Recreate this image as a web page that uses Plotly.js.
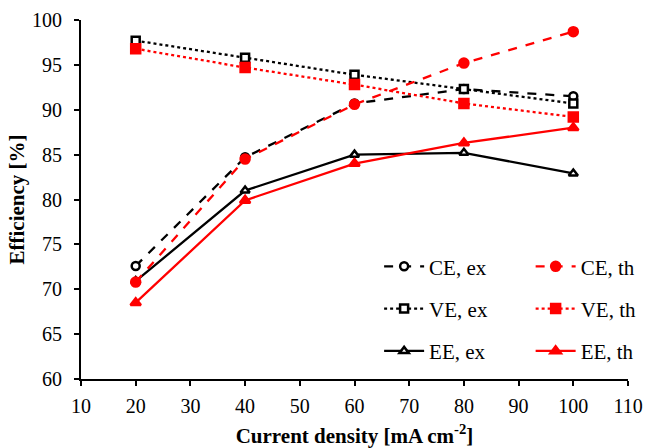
<!DOCTYPE html>
<html><head><meta charset="utf-8">
<script src="https://cdn.plot.ly/plotly-3.0.1.min.js"></script>
<style>html,body{margin:0;padding:0;background:#fff}#chart{width:647px;height:448px}</style>
</head><body><div id="chart"></div>
<script>
const currentDensity = [20, 40, 60, 80, 100];
const ceEx = [72.6, 84.7, 90.7, 92.3, 91.5];
const ceTh = [70.8, 84.5, 90.6, 95.2, 98.7];
const veEx = [97.7, 95.8, 93.9, 92.3, 90.7];
const veTh = [96.8, 94.7, 92.8, 90.7, 89.2];
const eeEx = [70.9, 81.0, 85.0, 85.2, 82.9];
const eeTh = [68.5, 79.9, 84.0, 86.3, 88.0];

const FONT = "'Liberation Serif', 'Times New Roman', serif";
function tr(name, y, color, dash, symbol, fill, size, legend) {
  return {
    x: currentDensity, y: y, name: name, type: 'scatter', mode: 'lines+markers',
    line: {color: color, width: 2.3, dash: dash},
    marker: {symbol: symbol, size: size, color: fill, line: {color: color, width: 2.5}},
    legend: legend, legendgroup: name
  };
}
const data = [
  tr('CE, ex', ceEx, '#000', 'dash', 'circle', '#fff', 8, 'legend'),
  tr('VE, ex', veEx, '#000', 'dot', 'square', '#fff', 8, 'legend'),
  tr('EE, ex', eeEx, '#000', 'solid', 'triangle-up', '#fff', 8, 'legend'),
  tr('CE, th', ceTh, '#ff0000', 'dash', 'circle', '#ff0000', 9, 'legend2'),
  tr('VE, th', veTh, '#ff0000', 'dot', 'square', '#ff0000', 9, 'legend2'),
  tr('EE, th', eeTh, '#ff0000', 'solid', 'triangle-up', '#ff0000', 9, 'legend2')
];
const legendCommon = {
  font: {family: FONT, size: 21, color: '#000'}, bgcolor: 'rgba(0,0,0,0)',
  tracegroupgap: 12, xanchor: 'left', yanchor: 'top', itemwidth: 40
};
const layout = {
  width: 647, height: 448,
  margin: {l: 81, r: 19, t: 20, b: 69, autoexpand: false},
  paper_bgcolor: '#fff', plot_bgcolor: '#fff',
  font: {family: FONT, size: 20, color: '#000'},
  showlegend: true,
  legend: Object.assign({x: 0.545, y: 0.37}, legendCommon),
  legend2: Object.assign({x: 0.822, y: 0.37}, legendCommon),
  xaxis: {
    range: [10, 110], tickvals: [10,20,30,40,50,60,70,80,90,100,110],
    showgrid: false, zeroline: false, showline: true, linecolor: '#000', linewidth: 2,
    ticks: 'outside', ticklen: 5, tickwidth: 2, tickcolor: '#000',
    ticklabelstandoff: 3,
    tickfont: {family: FONT, size: 20},
    title: {text: '<b>Current density [mA cm<sup>-2</sup>]</b>', font: {family: FONT, size: 21}, standoff: 12}
  },
  yaxis: {
    range: [60, 100], tickvals: [60,65,70,75,80,85,90,95,100],
    showgrid: false, zeroline: false, showline: true, linecolor: '#000', linewidth: 2,
    ticks: 'outside', ticklen: 5, tickwidth: 2, tickcolor: '#000',
    ticklabelstandoff: 8,
    tickfont: {family: FONT, size: 20},
    title: {text: '<b>Efficiency [%]</b>', font: {family: FONT, size: 21}, standoff: 2}
  }
};
Plotly.newPlot('chart', data, layout, {displayModeBar: false, staticPlot: true});
</script>
</body></html>
